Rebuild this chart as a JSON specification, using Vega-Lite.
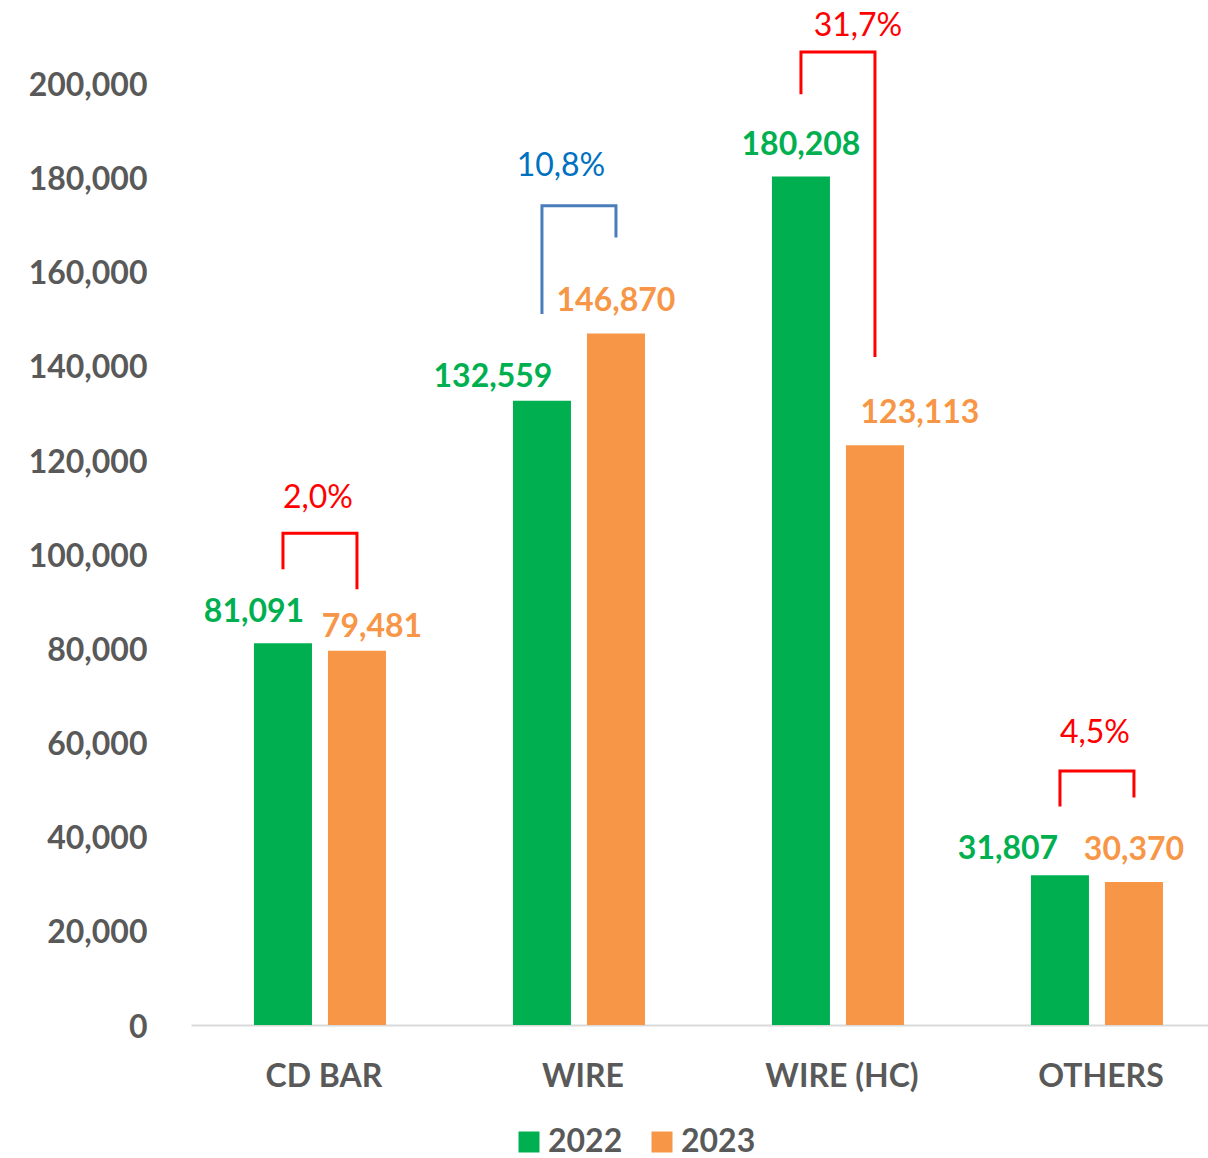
{
  "$schema": "https://vega.github.io/schema/vega-lite/v6.json",
  "autosize": {"type": "none"},
  "padding": {"left": 191, "top": 8, "right": 0, "bottom": 133},
  "width": 1017,
  "height": 1017,
  "background": "white",
  "config": {
    "view": {"stroke": null},
    "font": "Lato",
    "text": {"font": "Lato", "fontSize": 32}
  },
  "datasets": {
    "sales": [
      {"category": "CD BAR", "year": "2022", "value": 81091},
      {"category": "CD BAR", "year": "2023", "value": 79481},
      {"category": "WIRE", "year": "2022", "value": 132559},
      {"category": "WIRE", "year": "2023", "value": 146870},
      {"category": "WIRE (HC)", "year": "2022", "value": 180208},
      {"category": "WIRE (HC)", "year": "2023", "value": 123113},
      {"category": "OTHERS", "year": "2022", "value": 31807},
      {"category": "OTHERS", "year": "2023", "value": 30370}
    ],
    "brackets": [
      {"category": "CD BAR", "year": "2022", "value": 96800, "seq": 1},
      {"category": "CD BAR", "year": "2022", "value": 104450, "seq": 2},
      {"category": "CD BAR", "year": "2023", "value": 104450, "seq": 3},
      {"category": "CD BAR", "year": "2023", "value": 92550, "seq": 4},
      {"category": "WIRE", "year": "2022", "value": 151000, "seq": 1},
      {"category": "WIRE", "year": "2022", "value": 174000, "seq": 2},
      {"category": "WIRE", "year": "2023", "value": 174000, "seq": 3},
      {"category": "WIRE", "year": "2023", "value": 167250, "seq": 4},
      {"category": "WIRE (HC)", "year": "2022", "value": 197700, "seq": 1},
      {"category": "WIRE (HC)", "year": "2022", "value": 206650, "seq": 2},
      {"category": "WIRE (HC)", "year": "2023", "value": 206650, "seq": 3},
      {"category": "WIRE (HC)", "year": "2023", "value": 141900, "seq": 4},
      {"category": "OTHERS", "year": "2022", "value": 46400, "seq": 1},
      {"category": "OTHERS", "year": "2022", "value": 53950, "seq": 2},
      {"category": "OTHERS", "year": "2023", "value": 53950, "seq": 3},
      {"category": "OTHERS", "year": "2023", "value": 48300, "seq": 4}
    ],
    "changes": [
      {"category": "CD BAR", "label": "2,0%", "value": 109800},
      {"category": "WIRE", "label": "10,8%", "value": 180350},
      {"category": "WIRE (HC)", "label": "31,7%", "value": 210100},
      {"category": "OTHERS", "label": "4,5%", "value": 59900}
    ]
  },
  "encoding": {
    "x": {
      "field": "category",
      "type": "nominal",
      "sort": ["CD BAR", "WIRE", "WIRE (HC)", "OTHERS"],
      "scale": {"paddingInner": 0.4903, "paddingOuter": 0.2085, "align": 0.583},
      "axis": {
        "title": null,
        "labelAngle": 0,
        "labelFont": "Lato",
        "labelFontSize": 32,
        "labelFontWeight": "bold",
        "labelColor": "#595959",
        "labelPadding": 36,
        "labelOffset": 4,
        "ticks": false,
        "tickSize": 0,
        "domainColor": "#d9d9d9",
        "domainWidth": 2,
        "grid": false
      }
    },
    "y": {
      "field": "value",
      "type": "quantitative",
      "scale": {"domain": [0, 216000], "nice": false, "zero": true},
      "axis": {
        "title": null,
        "values": [0, 20000, 40000, 60000, 80000, 100000, 120000, 140000, 160000, 180000, 200000],
        "format": ",.0f",
        "labelFont": "Lato",
        "labelFontSize": 32,
        "labelFontWeight": "bold",
        "labelColor": "#595959",
        "labelPadding": 44,
        "labelOffset": 2,
        "ticks": false,
        "tickSize": 0,
        "domain": false,
        "grid": false
      }
    }
  },
  "layer": [
    {
      "data": {"name": "sales"},
      "mark": {"type": "bar"},
      "encoding": {
        "xOffset": {"field": "year", "type": "nominal", "scale": {"paddingInner": 0.216, "paddingOuter": 0}},
        "color": {
          "field": "year",
          "type": "nominal",
          "scale": {"domain": ["2022", "2023"], "range": ["#00b050", "#f79646"]},
          "legend": {
            "title": null,
            "orient": "none",
            "legendX": 322,
            "legendY": 1118,
            "direction": "horizontal",
            "columns": 2,
            "symbolType": "square",
            "symbolSize": 441,
            "symbolStrokeWidth": 0,
            "labelFont": "Lato",
            "labelFontSize": 32,
            "labelFontWeight": "bold",
            "labelColor": "#595959",
            "labelOffset": 3,
            "columnPadding": 23,
            "padding": 0
          }
        }
      }
    },
    {
      "data": {"name": "brackets"},
      "transform": [{"filter": "datum.category !== 'WIRE'"}],
      "mark": {"type": "line", "color": "#ff0000", "strokeWidth": 3, "strokeCap": "butt", "strokeJoin": "miter"},
      "encoding": {
        "xOffset": {"field": "year", "type": "nominal"},
        "detail": {"field": "category", "type": "nominal"},
        "order": {"field": "seq", "type": "quantitative"}
      }
    },
    {
      "data": {"name": "brackets"},
      "transform": [{"filter": "datum.category === 'WIRE'"}],
      "mark": {"type": "line", "color": "#4a7ebb", "strokeWidth": 3, "strokeCap": "butt", "strokeJoin": "miter"},
      "encoding": {
        "xOffset": {"field": "year", "type": "nominal"},
        "detail": {"field": "category", "type": "nominal"},
        "order": {"field": "seq", "type": "quantitative"}
      }
    },
    {
      "data": {"name": "sales"},
      "transform": [{"filter": "(datum.category === 'WIRE (HC)' && datum.year === '2022') || (datum.category === 'WIRE' && datum.year === '2023') || (datum.category === 'OTHERS' && datum.year === '2023')"}],
      "mark": {"type": "text", "fontWeight": "bold", "baseline": "alphabetic", "dy": -22},
      "encoding": {
        "xOffset": {"field": "year", "type": "nominal"},
        "text": {"field": "value", "type": "quantitative", "format": ","},
        "color": {"field": "year", "type": "nominal"}
      }
    },
    {
      "data": {"name": "sales"},
      "transform": [{"filter": "datum.category === 'CD BAR' && datum.year === '2022'"}],
      "mark": {"type": "text", "fontWeight": "bold", "baseline": "alphabetic", "dx": -29, "dy": -21.6},
      "encoding": {
        "xOffset": {"field": "year", "type": "nominal"},
        "text": {"field": "value", "type": "quantitative", "format": ","},
        "color": {"field": "year", "type": "nominal"}
      }
    },
    {
      "data": {"name": "sales"},
      "transform": [{"filter": "datum.category === 'CD BAR' && datum.year === '2023'"}],
      "mark": {"type": "text", "fontWeight": "bold", "baseline": "alphabetic", "dx": 15, "dy": -14},
      "encoding": {
        "xOffset": {"field": "year", "type": "nominal"},
        "text": {"field": "value", "type": "quantitative", "format": ","},
        "color": {"field": "year", "type": "nominal"}
      }
    },
    {
      "data": {"name": "sales"},
      "transform": [{"filter": "datum.category === 'WIRE' && datum.year === '2022'"}],
      "mark": {"type": "text", "fontWeight": "bold", "baseline": "alphabetic", "dx": -49, "dy": -14},
      "encoding": {
        "xOffset": {"field": "year", "type": "nominal"},
        "text": {"field": "value", "type": "quantitative", "format": ","},
        "color": {"field": "year", "type": "nominal"}
      }
    },
    {
      "data": {"name": "sales"},
      "transform": [{"filter": "datum.category === 'WIRE (HC)' && datum.year === '2023'"}],
      "mark": {"type": "text", "fontWeight": "bold", "baseline": "alphabetic", "dx": 45, "dy": -22},
      "encoding": {
        "xOffset": {"field": "year", "type": "nominal"},
        "text": {"field": "value", "type": "quantitative", "format": ","},
        "color": {"field": "year", "type": "nominal"}
      }
    },
    {
      "data": {"name": "sales"},
      "transform": [{"filter": "datum.category === 'OTHERS' && datum.year === '2022'"}],
      "mark": {"type": "text", "fontWeight": "bold", "baseline": "alphabetic", "dx": -52, "dy": -16},
      "encoding": {
        "xOffset": {"field": "year", "type": "nominal"},
        "text": {"field": "value", "type": "quantitative", "format": ","},
        "color": {"field": "year", "type": "nominal"}
      }
    },
    {
      "data": {"name": "changes"},
      "transform": [{"filter": "datum.category === 'CD BAR' || datum.category === 'OTHERS'"}],
      "mark": {"type": "text", "baseline": "alphabetic", "color": "#ff0000", "dx": -2},
      "encoding": {
        "text": {"field": "label", "type": "nominal"}
      }
    },
    {
      "data": {"name": "changes"},
      "transform": [{"filter": "datum.category === 'WIRE (HC)'"}],
      "mark": {"type": "text", "baseline": "alphabetic", "color": "#ff0000", "dx": 20},
      "encoding": {
        "text": {"field": "label", "type": "nominal"}
      }
    },
    {
      "data": {"name": "changes"},
      "transform": [{"filter": "datum.category === 'WIRE'"}],
      "mark": {"type": "text", "baseline": "alphabetic", "color": "#0070c0", "dx": -18},
      "encoding": {
        "text": {"field": "label", "type": "nominal"}
      }
    }
  ]
}
